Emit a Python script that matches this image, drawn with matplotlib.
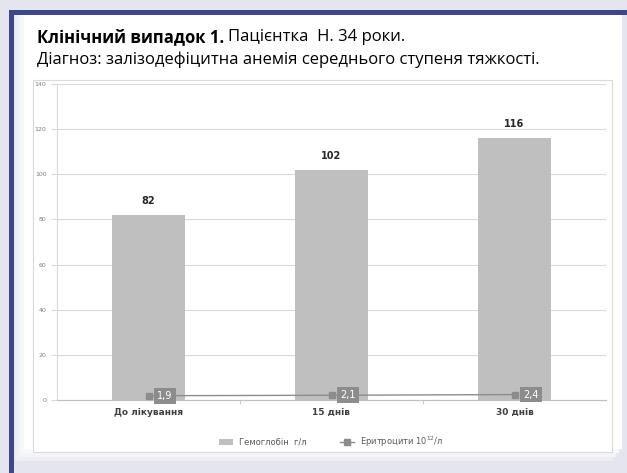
import numpy as np
import matplotlib.pyplot as plt
from matplotlib.patches import Rectangle

categories = ['До лікування', '15 днів', '30 днів']
hemoglobin = [82, 102, 116]
erythrocytes = [1.9, 2.1, 2.4]
ery_labels = ['1,9', '2,1', '2,4']

W, H = 627, 473
fig = plt.figure(figsize=(W / 100, H / 100), dpi=100)
fig.patch.set_facecolor('#e4e5ee')

def px_rect(x0, y0, x1, y1, **kw):
    # rectangle in pixel coords (top-left origin)
    r = Rectangle((x0 / W, 1 - y1 / H), (x1 - x0) / W, (y1 - y0) / H,
                  transform=fig.transFigure, **kw)
    fig.patches.append(r)

# soft panel with shaded edges
for i, c in enumerate(['#eceef4', '#f3f4f8', '#f9f9fb', '#ffffff']):
    px_rect(15 + 3 * i, 15, W - 14 + 3 * i, H - 12 - 4 * i, color=c, lw=0, zorder=0)
# navy frame
px_rect(9, 10, W, 15, color='#3d4886', lw=0, zorder=1)
px_rect(9, 10, 14, H, color='#3d4886', lw=0, zorder=1)
# chart box
px_rect(33, 80, 612, 452, facecolor='white', edgecolor='#d9d9d9', lw=0.8, zorder=1)

t1 = fig.text(37 / W, 1 - 37 / H, 'Клінічний випадок 1.', fontsize=12, fontweight='bold',
              family='Open Sans', va='center', ha='left')
fig.canvas.draw()
bb = t1.get_window_extent()
fig.text((bb.x1 + 4) / W, 1 - 37 / H, 'Пацієнтка  Н. 34 роки.', fontsize=12,
         family='Open Sans', va='center', ha='left')
fig.text(37 / W, 1 - 60 / H, 'Діагноз: залізодефіцитна анемія середнього ступеня тяжкості.',
         fontsize=12, family='Open Sans', va='center', ha='left')

ax = fig.add_axes([57 / W, 1 - 400 / H, (606 - 57) / W, (400 - 84) / H])
ax.set_zorder(5)
ax.set_facecolor('white')
x = np.arange(len(categories))
bars = ax.bar(x, hemoglobin, width=0.4, color='#bfbfbf', zorder=2, label='Гемоглобін  г/л')
line, = ax.plot(x, erythrocytes, color='#8c8c8c', lw=1.0, marker='s', markersize=4,
                zorder=3, label='Еритроцити 10$^{12}$/л')

for xi, v in zip(x, hemoglobin):
    ax.text(xi, v + 4, str(v), ha='center', va='bottom', fontsize=7, fontweight='bold',
            color='#262626')
for xi, v, lab in zip(x, erythrocytes, ery_labels):
    ax.text(xi + 0.09, v, lab, ha='center', va='center', fontsize=7, color='white',
            zorder=4, bbox=dict(boxstyle='square,pad=0.3', fc='#8c8c8c', ec='none'))

ax.set_xlim(-0.5, 2.5)
ax.set_ylim(0, 140)
ax.set_yticks(range(0, 141, 20))
ax.tick_params(axis='y', labelsize=4.5, labelcolor='#7f7f7f', color='#d9d9d9', length=4)
ax.set_xticks(x)
ax.set_xticklabels(categories, fontsize=6.5, fontweight='bold', color='#404040')
ax.tick_params(axis='x', length=0, pad=6)
ax.set_xticks([0.5, 1.5], minor=True)
ax.tick_params(axis='x', which='minor', length=3, color='#bfbfbf')
ax.grid(axis='y', color='#d9d9d9', lw=0.8, zorder=0)
for s in ['top', 'right']:
    ax.spines[s].set_visible(False)
ax.spines['left'].set_color('#d9d9d9')
ax.spines['bottom'].set_color('#bfbfbf')

leg = ax.legend(handles=[bars, line], loc='upper center', bbox_to_anchor=(0.5, -0.085),
                ncol=2, frameon=False, fontsize=6, handlelength=1.6, columnspacing=4)
for t in leg.get_texts():
    t.set_color('#595959')

fig.savefig('out.png', dpi=100, facecolor=fig.get_facecolor())
